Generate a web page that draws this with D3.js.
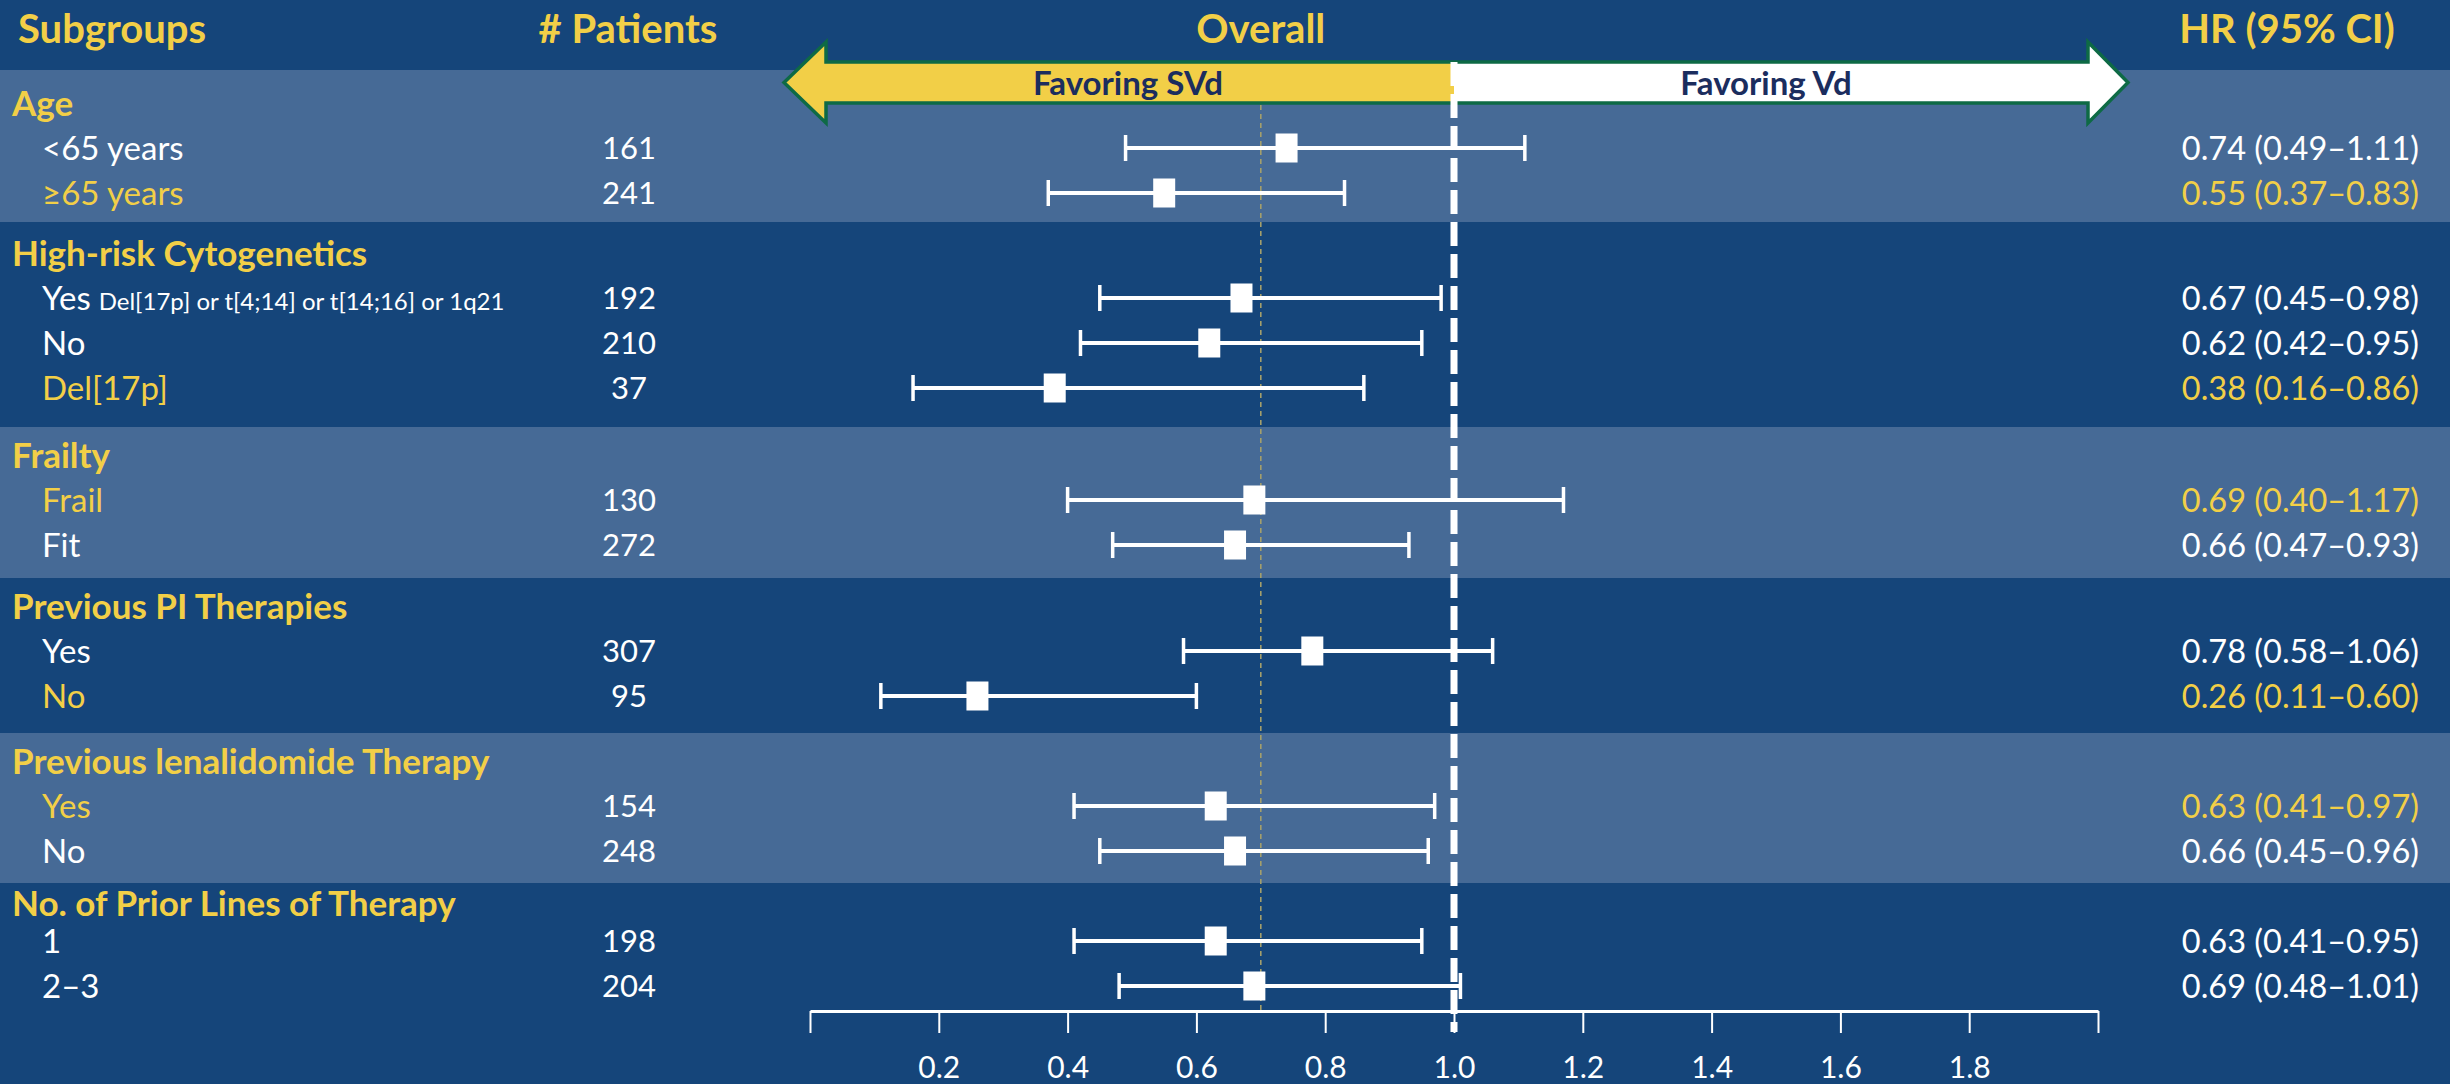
<!DOCTYPE html>
<html>
<head>
<meta charset="utf-8">
<script src="https://cdn.jsdelivr.net/npm/d3@7"></script>
<style>
  html, body { margin: 0; padding: 0; background: #15457a; }
  svg { display: block; }
  text { font-family: Lato, "Open Sans", sans-serif; }
</style>
</head>
<body>
<svg id="chart" width="2450" height="1084"></svg>
<script>
// ---- Data ----------------------------------------------------------------
const groups = [
  "Age",
  "High-risk Cytogenetics",
  "Frailty",
  "Previous PI Therapies",
  "Previous lenalidomide Therapy",
  "No. of Prior Lines of Therapy"
];
// group index of each subgroup row
const rowGroup   = [0, 0, 1, 1, 1, 2, 2, 3, 3, 4, 4, 5, 5];
const rowLabels  = ["<65 years", "\u226565 years", "Yes", "No", "Del[17p]", "Frail", "Fit",
                    "Yes", "No", "Yes", "No", "1", "2\u20133"];
const rowNotes   = ["", "", "Del[17p] or t[4;14] or t[14;16] or 1q21", "", "", "", "",
                    "", "", "", "", "", ""];
const patients   = [161, 241, 192, 210, 37, 130, 272, 307, 95, 154, 248, 198, 204];
const hr         = [0.74, 0.55, 0.67, 0.62, 0.38, 0.69, 0.66, 0.78, 0.26, 0.63, 0.66, 0.63, 0.69];
const ciLow      = [0.49, 0.37, 0.45, 0.42, 0.16, 0.40, 0.47, 0.58, 0.11, 0.41, 0.45, 0.41, 0.48];
const ciHigh     = [1.11, 0.83, 0.98, 0.95, 0.86, 1.17, 0.93, 1.06, 0.60, 0.97, 0.96, 0.95, 1.01];
const highlighted = [false, true, false, false, true, true, false, false, true, true, false, false, false];
const overallHR  = 0.70;
const tickValues = [0, 0.2, 0.4, 0.6, 0.8, 1.0, 1.2, 1.4, 1.6, 1.8, 2.0];
const tickLabels = ["", "0.2", "0.4", "0.6", "0.8", "1.0", "1.2", "1.4", "1.6", "1.8", ""];

// ---- Layout --------------------------------------------------------------
const W = 2450, H = 1084;
const bandEdges   = [70, 222, 427, 578, 733, 883, H];   // shaded group bands
const headerY     = [103, 253, 455, 606, 761, 903];     // group heading centre lines
const firstOffset = [45, 45, 45, 45, 45, 38];           // heading -> first row
const rowPitch    = 45;

// ---- Style ---------------------------------------------------------------
const C = {
  dark: "#15457a",
  light: "#466a96",
  yellow: "#f2cf47",
  white: "#ffffff",
  green: "#0e6a45",
  navy: "#1b2d5e",
  overall: "#a39f6c"
};

const svg = d3.select("#chart");
svg.append("rect").attr("width", W).attr("height", H).attr("fill", C.dark);

// ---- Scales --------------------------------------------------------------
const x = d3.scaleLinear().domain([0, 2]).range([810, 2098]);

// row centre: group heading line + position inside the group
const rowY = rowGroup.map((g, i) => {
  const k = rowGroup.slice(0, i).filter(v => v === g).length;
  return headerY[g] + firstOffset[g] + rowPitch * k;
});

// ---- Group bands ---------------------------------------------------------
svg.append("g").selectAll("rect")
  .data(groups)
  .join("rect")
  .attr("x", 0)
  .attr("width", W)
  .attr("y", (d, i) => bandEdges[i])
  .attr("height", (d, i) => bandEdges[i + 1] - bandEdges[i])
  .attr("fill", (d, i) => i % 2 === 0 ? C.light : C.dark);

// ---- Column headers ------------------------------------------------------
const head = svg.append("g")
  .attr("font-weight", 700).attr("font-size", 40).attr("fill", C.yellow);
head.append("text").attr("x", 18).attr("y", 43).text("Subgroups");
head.append("text").attr("x", 628).attr("y", 43).attr("text-anchor", "middle").text("# Patients");
head.append("text").attr("x", x(overallHR)).attr("y", 43).attr("text-anchor", "middle").text("Overall");
head.append("text").attr("x", 2287).attr("y", 43).attr("text-anchor", "middle").text("HR (95% CI)");

// ---- Direction arrow -----------------------------------------------------
const aL = x(0) - 26, aR = x(2) + 30, hL = x(0) + 16, hR = x(2) - 10, mid = x(1);
const shaftT = 62, shaftB = 103, headT = 42, headB = 123, aY = (shaftT + shaftB) / 2;
const arrow = svg.append("g");
arrow.append("path")
  .attr("d", `M${aL},${aY} L${hL},${headT} L${hL},${shaftT} L${mid},${shaftT} L${mid},${shaftB} L${hL},${shaftB} L${hL},${headB} Z`)
  .attr("fill", C.yellow);
arrow.append("path")
  .attr("d", `M${aR},${aY} L${hR},${headT} L${hR},${shaftT} L${mid},${shaftT} L${mid},${shaftB} L${hR},${shaftB} L${hR},${headB} Z`)
  .attr("fill", C.white);
arrow.append("path")
  .attr("d", `M${aL},${aY} L${hL},${headT} L${hL},${shaftT} L${hR},${shaftT} L${hR},${headT} L${aR},${aY} L${hR},${headB} L${hR},${shaftB} L${hL},${shaftB} L${hL},${headB} Z`)
  .attr("fill", "none").attr("stroke", C.green).attr("stroke-width", 3.5).attr("stroke-linejoin", "miter");
arrow.append("text").attr("x", 1128).attr("y", 95).attr("text-anchor", "middle")
  .attr("font-weight", 700).attr("font-size", 33).attr("fill", C.navy).text("Favoring SVd");
arrow.append("text").attr("x", 1766).attr("y", 95).attr("text-anchor", "middle")
  .attr("font-weight", 700).attr("font-size", 33).attr("fill", C.navy).text("Favoring Vd");

// ---- Overall reference line ----------------------------------------------
svg.append("line")
  .attr("x1", x(overallHR)).attr("x2", x(overallHR))
  .attr("y1", shaftB + 2).attr("y2", 1010)
  .attr("stroke", C.overall).attr("stroke-width", 1.6).attr("stroke-dasharray", "5,4");

// ---- Axis ----------------------------------------------------------------
const axisY = 1011;
const axis = d3.axisBottom(x)
  .tickValues(tickValues)
  .tickFormat((d, i) => tickLabels[i])
  .tickSize(22)
  .tickSizeOuter(0)
  .tickPadding(24);
const ax = svg.append("g").attr("transform", `translate(0,${axisY})`).call(axis);
ax.select(".domain").attr("stroke", C.white).attr("stroke-width", 3);
ax.selectAll(".tick line").attr("stroke", C.white).attr("stroke-width", 2);
ax.selectAll(".tick text").attr("fill", C.white).attr("font-size", 30)
  .attr("font-family", "Lato, sans-serif");

// line of no effect
svg.append("line")
  .attr("x1", x(1)).attr("x2", x(1))
  .attr("y1", shaftT).attr("y2", 1032)
  .attr("stroke", C.white).attr("stroke-width", 7).attr("stroke-dasharray", "24,8");

// ---- Group headings ------------------------------------------------------
svg.append("g").selectAll("text")
  .data(groups)
  .join("text")
  .attr("x", 12)
  .attr("y", (d, i) => headerY[i])
  .attr("dy", "0.36em")
  .attr("font-weight", 700).attr("font-size", 35).attr("fill", C.yellow)
  .text(d => d);

// ---- Subgroup rows -------------------------------------------------------
const rows = svg.append("g").selectAll("g")
  .data(rowLabels.map((label, i) => ({
    label, note: rowNotes[i], n: patients[i], hr: hr[i], lo: ciLow[i], hi: ciHigh[i],
    hl: highlighted[i], y: rowY[i]
  })))
  .join("g");

const lab = rows.append("text")
  .attr("x", 42).attr("y", d => d.y).attr("dy", "0.36em")
  .attr("font-size", 33)
  .attr("fill", d => d.hl ? C.yellow : C.white);
lab.append("tspan").text(d => d.label);
lab.filter(d => d.note).append("tspan").attr("font-size", 24).attr("dx", 8).text(d => d.note);

rows.append("text")
  .attr("x", 629).attr("y", d => d.y).attr("dy", "0.36em")
  .attr("text-anchor", "middle").attr("font-size", 31).attr("fill", C.white)
  .text(d => d.n);

const fmt = d3.format(".2f");
rows.append("text")
  .attr("x", 2419).attr("y", d => d.y).attr("dy", "0.36em")
  .attr("text-anchor", "end").attr("font-size", 32.5)
  .attr("fill", d => d.hl ? C.yellow : C.white)
  .text(d => `${fmt(d.hr)} (${fmt(d.lo)}\u2013${fmt(d.hi)})`);

// confidence intervals
rows.append("line")
  .attr("x1", d => x(d.lo)).attr("x2", d => x(d.hi))
  .attr("y1", d => d.y).attr("y2", d => d.y)
  .attr("stroke", C.white).attr("stroke-width", 4);
rows.append("line")
  .attr("x1", d => x(d.lo)).attr("x2", d => x(d.lo))
  .attr("y1", d => d.y - 13).attr("y2", d => d.y + 13)
  .attr("stroke", C.white).attr("stroke-width", 3.5);
rows.append("line")
  .attr("x1", d => x(d.hi)).attr("x2", d => x(d.hi))
  .attr("y1", d => d.y - 13).attr("y2", d => d.y + 13)
  .attr("stroke", C.white).attr("stroke-width", 3.5);
rows.append("rect")
  .attr("x", d => x(d.hr) - 11).attr("y", d => d.y - 14.5)
  .attr("width", 22).attr("height", 29)
  .attr("fill", C.white);
</script>
</body>
</html>
